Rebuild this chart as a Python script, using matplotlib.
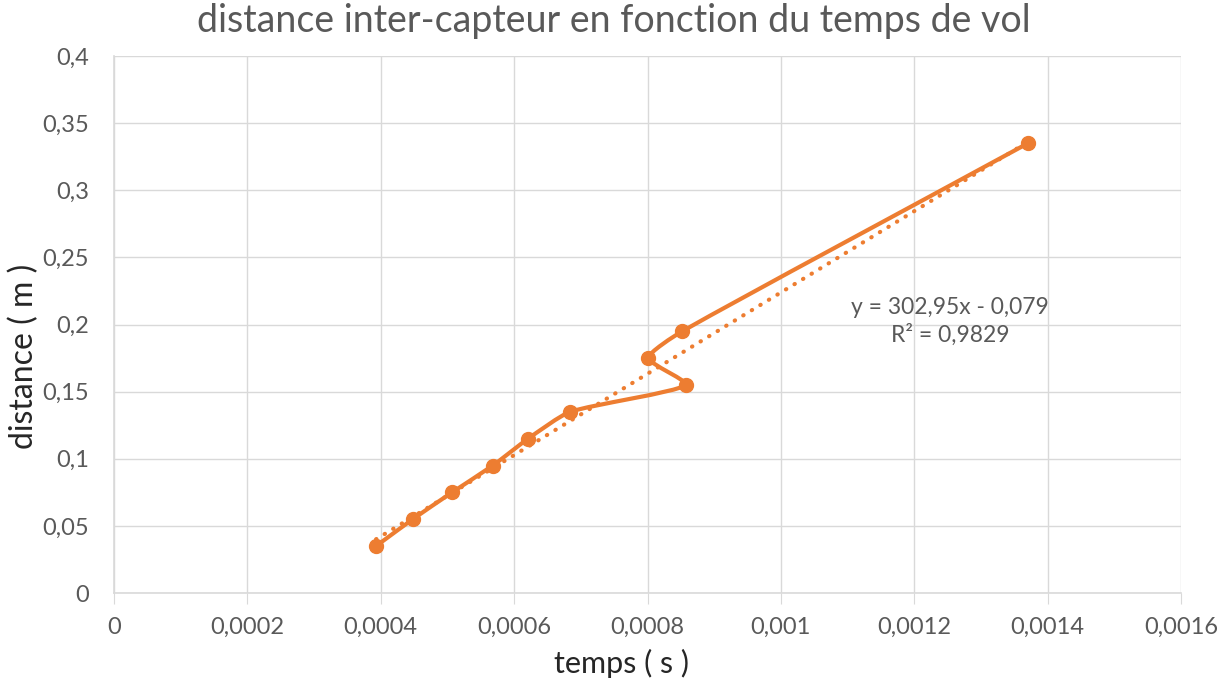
import numpy as np
import matplotlib
matplotlib.use("Agg")
import matplotlib.pyplot as plt
from matplotlib.path import Path
from matplotlib.patches import PathPatch

plt.rcParams['font.family'] = ['Lato', 'DejaVu Sans']

# data
temps = [0.000393, 0.000448, 0.000507, 0.000568, 0.000621, 0.000684,
         0.000858, 0.000801, 0.000852, 0.00137]
distance = [0.035, 0.055, 0.075, 0.095, 0.115, 0.135,
            0.155, 0.175, 0.195, 0.335]
slope, intercept = 302.95, -0.079
eq_text = "y = 302,95x - 0,079\nR² = 0,9829"

x_ticks = [0, 0.0002, 0.0004, 0.0006, 0.0008, 0.001, 0.0012, 0.0014, 0.0016]
x_labels = ["0", "0,0002", "0,0004", "0,0006", "0,0008", "0,001", "0,0012", "0,0014", "0,0016"]
y_ticks = [0, 0.05, 0.1, 0.15, 0.2, 0.25, 0.3, 0.35, 0.4]
y_labels = ["0", "0,05", "0,1", "0,15", "0,2", "0,25", "0,3", "0,35", "0,4"]

orange = '#ED7D31'
gray = '#595959'
grid_c = '#D9D9D9'

fig = plt.figure(figsize=(12.28, 6.85), dpi=100)
ax = fig.add_axes([0.0928, 0.1343, 0.869, 0.7837])
ax.set_xlim(0, 0.0016)
ax.set_ylim(0, 0.4)

# smoothed line like Excel: bezier with tangents scaled by segment length
sx, sy = 1067 / 0.0016, 537 / 0.4
P = np.column_stack([np.array(temps) * sx, np.array(distance) * sy])
n = len(P)
d = np.linalg.norm(np.diff(P, axis=0), axis=1)
k = 0.6
verts = [tuple(P[0])]
codes = [Path.MOVETO]
for i in range(n - 1):
    p1, p2 = P[i], P[i + 1]
    if i > 0:
        c1 = p1 + (p2 - P[i - 1]) * d[i] / (d[i - 1] + d[i]) / 3 * k
    else:
        c1 = p1 + (p2 - p1) / 3
    if i + 2 < n:
        c2 = p2 - (P[i + 2] - p1) * d[i] / (d[i] + d[i + 1]) / 3 * k
    else:
        c2 = p2 - (p2 - p1) / 3
    verts += [tuple(c1), tuple(c2), tuple(p2)]
    codes += [Path.CURVE4] * 3
verts = [(vx / sx, vy / sy) for vx, vy in verts]
ax.add_patch(PathPatch(Path(verts, codes), facecolor='none', edgecolor=orange,
                       lw=3, capstyle='round', joinstyle='round', zorder=3))
ax.plot(temps, distance, 'o', color=orange, ms=10, zorder=4)

# trendline
tx = np.array([min(temps), max(temps)])
ax.plot(tx, slope * tx + intercept, color=orange, lw=3, linestyle=(0, (0.1, 2.3)),
        dash_capstyle='round', zorder=2)
ax.text(0.001254, 0.2026, eq_text, ha='center', va='center', fontsize=16.5,
        color=gray, linespacing=1.3)

ax.set_xticks(x_ticks)
ax.set_xticklabels(x_labels)
ax.set_yticks(y_ticks)
ax.set_yticklabels(y_labels)
ax.grid(True, color=grid_c, lw=1)
ax.set_axisbelow(True)
for s in ['top', 'right']:
    ax.spines[s].set_visible(False)
for s in ['left', 'bottom']:
    ax.spines[s].set_color(grid_c)
    ax.spines[s].set_linewidth(1.2)
ax.tick_params(axis='x', length=8, color=grid_c, labelsize=17, labelcolor=gray, pad=9)
ax.tick_params(axis='y', length=0, labelsize=17, labelcolor=gray, pad=18)

ax.set_xlabel('temps ( s )', fontsize=22, color='#262626', labelpad=8, x=0.476)
ax.set_ylabel('distance ( m )', fontsize=23, color='#262626', labelpad=2, y=0.44)
fig.suptitle('distance inter-capteur en fonction du temps de vol', fontsize=27,
             color=gray, y=0.995)

fig.savefig('out.png', dpi=100)
